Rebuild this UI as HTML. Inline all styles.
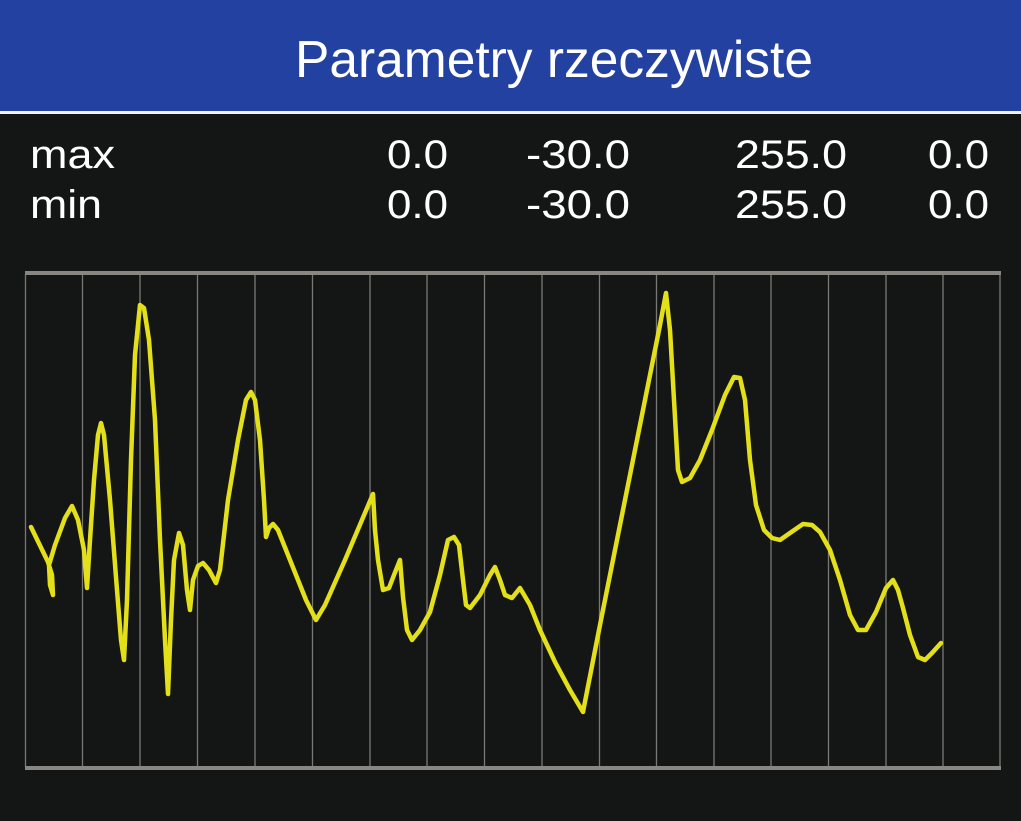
<!DOCTYPE html>
<html><head><meta charset="utf-8"><style>
html,body{margin:0;padding:0;background:#141615;width:1021px;height:821px;overflow:hidden}
svg{display:block}
</style></head><body>
<svg width="1021" height="821" viewBox="0 0 1021 821" xmlns="http://www.w3.org/2000/svg">
<rect width="1021" height="821" fill="#141615"/>
<rect width="1021" height="111" fill="#2341a0"/>
<rect y="111" width="1021" height="3" fill="#f2f2f2"/>
<text x="295" y="77" font-family="Liberation Sans, sans-serif" font-size="52" fill="#fff" textLength="518" lengthAdjust="spacingAndGlyphs">Parametry rzeczywiste</text>
<g font-family="Liberation Sans, sans-serif" font-size="40" fill="#fff">
<text x="30" y="168" textLength="85" lengthAdjust="spacingAndGlyphs">max</text><text x="30" y="218" textLength="72" lengthAdjust="spacingAndGlyphs">min</text>
<g text-anchor="end">
<text x="448" y="168" textLength="61" lengthAdjust="spacingAndGlyphs">0.0</text><text x="630" y="168" textLength="104" lengthAdjust="spacingAndGlyphs">-30.0</text><text x="847" y="168" textLength="112" lengthAdjust="spacingAndGlyphs">255.0</text><text x="989" y="168" textLength="61" lengthAdjust="spacingAndGlyphs">0.0</text>
<text x="448" y="218" textLength="61" lengthAdjust="spacingAndGlyphs">0.0</text><text x="630" y="218" textLength="104" lengthAdjust="spacingAndGlyphs">-30.0</text><text x="847" y="218" textLength="112" lengthAdjust="spacingAndGlyphs">255.0</text><text x="989" y="218" textLength="61" lengthAdjust="spacingAndGlyphs">0.0</text>
</g></g>
<g stroke="#7a7874" stroke-width="1.3">
<line x1="25.5" y1="274" x2="25.5" y2="767"/><line x1="82.5" y1="274" x2="82.5" y2="767"/><line x1="140" y1="274" x2="140" y2="767"/><line x1="197.5" y1="274" x2="197.5" y2="767"/><line x1="255" y1="274" x2="255" y2="767"/><line x1="312.5" y1="274" x2="312.5" y2="767"/><line x1="370" y1="274" x2="370" y2="767"/><line x1="427" y1="274" x2="427" y2="767"/><line x1="484.5" y1="274" x2="484.5" y2="767"/><line x1="542" y1="274" x2="542" y2="767"/><line x1="599.5" y1="274" x2="599.5" y2="767"/><line x1="656.5" y1="274" x2="656.5" y2="767"/><line x1="714" y1="274" x2="714" y2="767"/><line x1="771" y1="274" x2="771" y2="767"/><line x1="828.5" y1="274" x2="828.5" y2="767"/><line x1="886" y1="274" x2="886" y2="767"/><line x1="943" y1="274" x2="943" y2="767"/><line x1="1000" y1="274" x2="1000" y2="767"/>
</g>
<rect x="25" y="271" width="976" height="4" fill="#8a8782"/>
<rect x="25" y="766" width="976" height="4" fill="#8a8782"/>
<polyline fill="none" stroke="#e3e01a" stroke-width="4.5" stroke-linejoin="round" stroke-linecap="round" points="
31,527 48,562 52,575 53,595 50,585 49,565 55,545 65,518 72,506 78,520 84,550 87,588 90,540 94,480 98,435 101,423 104,435 110,500 117,590 121,640 124,660 127,600 131,460 135,355 140,305 144,308 149,340 155,420 160,540 165,640 168,694 171,620 174,560 179,533 183,545 187,590 190,610 193,580 198,566 203,563 209,570 216,583 220,570 228,500 238,440 246,400 251,392 255,400 260,440 264,500 266,537 269,528 273,524 278,530 290,560 306,600 316,620 325,605 345,560 373,494 375,530 378,560 383,590 389,588 394,575 400,560 403,597 407,630 412,640 420,630 430,612 440,575 448,540 454,537 459,545 463,580 466,605 470,608 480,595 490,575 495,567 500,580 505,595 512,598 520,588 530,605 540,630 555,662 570,690 583,712 600,625 620,525 640,425 660,325 666,293 670,330 674,400 678,470 682,482 690,478 700,460 712,430 725,395 734,377 740,378 745,400 750,460 756,505 764,530 772,538 780,540 790,533 803,524 812,525 820,532 830,550 840,580 850,615 858,630 866,630 876,612 886,588 893,580 898,590 903,608 910,635 918,657 925,660 932,653 941,643"/>
</svg>
</body></html>
